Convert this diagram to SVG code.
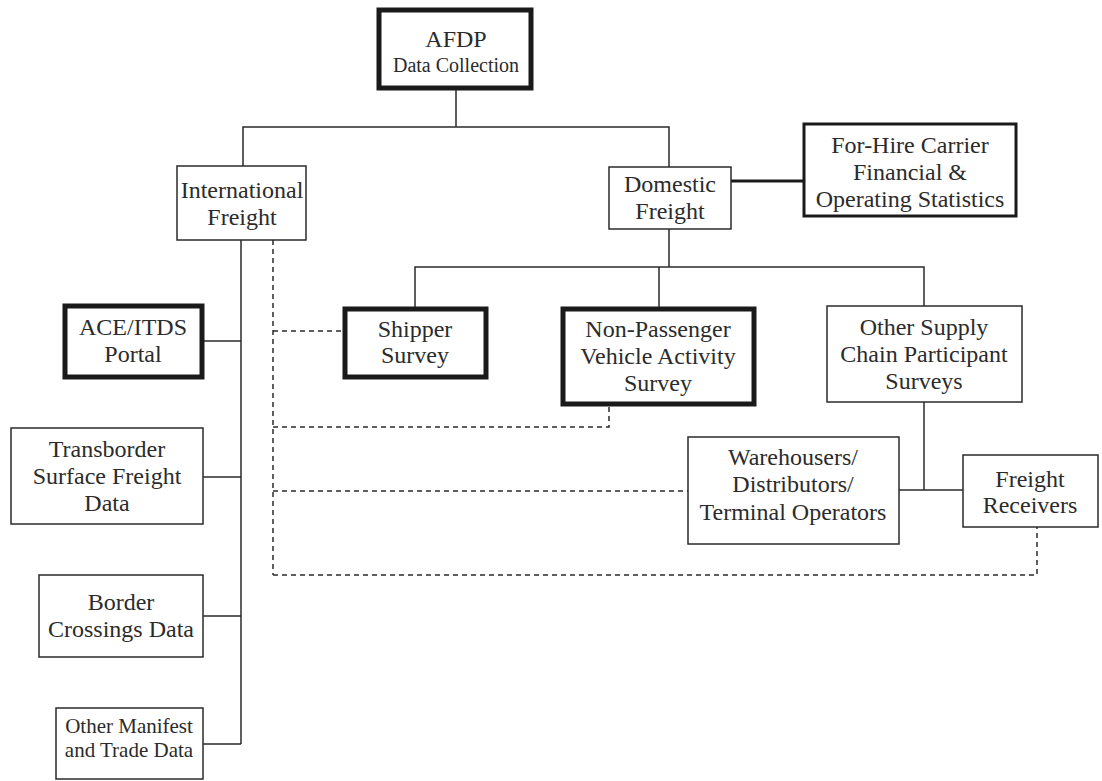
<svg xmlns="http://www.w3.org/2000/svg" width="1102" height="781" viewBox="0 0 1102 781">
<style>
text{font-family:"Liberation Serif","Times New Roman",serif;font-size:24px;fill:#2b2b2b;text-anchor:middle}
text.s20{font-size:20px}
text.s21{font-size:21px}
.box{fill:#fff;stroke:#2b2b2b;stroke-width:1.5}
.thick{fill:#fff;stroke:#1a1a1a;stroke-width:5}
.med{fill:#fff;stroke:#1a1a1a;stroke-width:3}
.ln{fill:none;stroke:#2b2b2b;stroke-width:1.5}
.ln2{fill:none;stroke:#1a1a1a;stroke-width:3}
.dash{fill:none;stroke:#2b2b2b;stroke-width:1.5;stroke-dasharray:5 4}
</style>
<rect width="1102" height="781" fill="#fff"/>
<g id="connectors">
<path class="ln" d="M456 89V127M243 166V127H669V167"/>
<path class="ln2" d="M731 181H804"/>
<path class="ln" d="M669 229V267M415 307V267H924V306M659 267V307"/>
<path class="ln" d="M241 240V744M203 341H241M203 477H241M203 616H241M203 744H241"/>
<path class="ln" d="M924 402V490M899 490H963"/>
<path class="dash" d="M273 240V575"/>
<path class="dash" d="M273 331H343"/>
<path class="dash" d="M273 427H609V405"/>
<path class="dash" d="M273 491H688"/>
<path class="dash" d="M273 575H1037V527"/>
</g>
<g id="afdp"><rect class="thick" x="379" y="10" width="152" height="78"/><text x="456" y="47">AFDP</text><text class="s20" x="456" y="72">Data Collection</text></g>
<g id="international"><rect class="box" x="177" y="166" width="129" height="74"/><text x="242" y="198">International</text><text x="242" y="225">Freight</text></g>
<g id="domestic"><rect class="box" x="609" y="167" width="122" height="62"/><text x="670" y="192">Domestic</text><text x="670" y="219">Freight</text></g>
<g id="forhire"><rect class="med" x="804" y="124" width="212" height="92"/><text x="910" y="153">For-Hire Carrier</text><text x="910" y="180">Financial &amp;</text><text x="910" y="207">Operating Statistics</text></g>
<g id="ace"><rect class="thick" x="65" y="306" width="137" height="71"/><text x="133" y="335">ACE/ITDS</text><text x="133" y="362">Portal</text></g>
<g id="transborder"><rect class="box" x="11" y="428" width="192" height="96"/><text x="107" y="457">Transborder</text><text x="107" y="484">Surface Freight</text><text x="107" y="511">Data</text></g>
<g id="border"><rect class="box" x="39" y="575" width="164" height="82"/><text x="121" y="610">Border</text><text x="121" y="637">Crossings Data</text></g>
<g id="manifest"><rect class="box" x="56" y="708" width="147" height="71"/><text class="s21" x="129" y="733">Other Manifest</text><text class="s21" x="129" y="757">and Trade Data</text></g>
<g id="shipper"><rect class="thick" x="345" y="309" width="141" height="68"/><text x="415" y="337">Shipper</text><text x="415" y="363">Survey</text></g>
<g id="npv"><rect class="thick" x="563" y="309" width="191" height="95"/><text x="658" y="337">Non-Passenger</text><text x="658" y="364">Vehicle Activity</text><text x="658" y="391">Survey</text></g>
<g id="othersupply"><rect class="box" x="827" y="306" width="195" height="96"/><text x="924" y="335">Other Supply</text><text x="924" y="362">Chain Participant</text><text x="924" y="389">Surveys</text></g>
<g id="warehousers"><rect class="box" x="688" y="437" width="211" height="107"/><text x="793" y="465">Warehousers/</text><text x="793" y="492">Distributors/</text><text x="793" y="520">Terminal Operators</text></g>
<g id="receivers"><rect class="box" x="963" y="455" width="135" height="72"/><text x="1030" y="487">Freight</text><text x="1030" y="513">Receivers</text></g>
</svg>
